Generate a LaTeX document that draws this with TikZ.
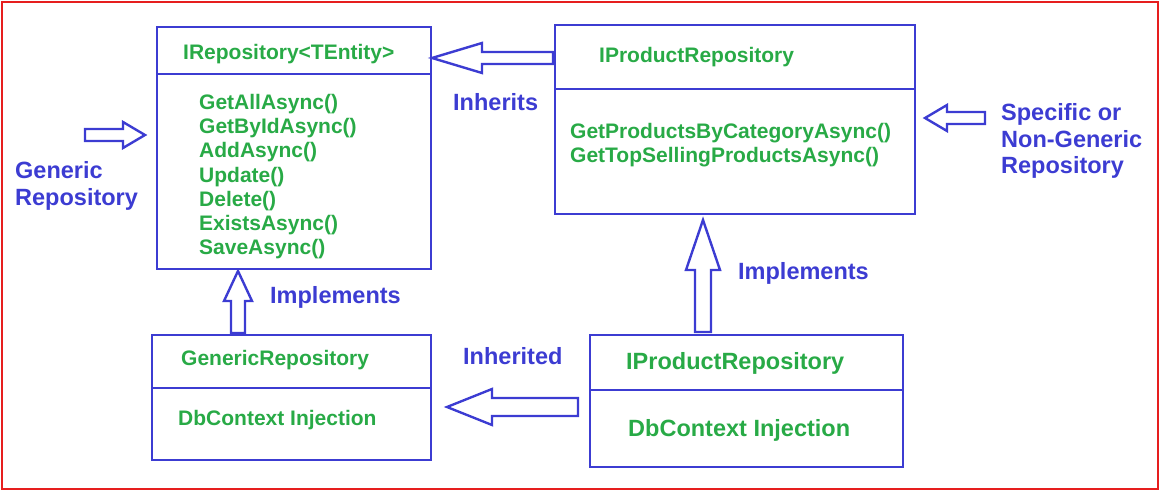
\documentclass[tikz,border=0pt]{standalone}
\usepackage{fontspec}
\setmainfont{Liberation Sans}
\definecolor{gr}{RGB}{40,170,70}
\definecolor{bl}{RGB}{60,60,210}
\definecolor{rd}{RGB}{230,30,30}
\newcommand{\myharrow}[6]{%
  \draw[arr] (#1,#3) -- ({#1+#6},{#3-#5}) -- ({#1+#6},{#3-#4}) -- (#2,{#3-#4}) -- (#2,{#3+#4}) -- ({#1+#6},{#3+#4}) -- ({#1+#6},{#3+#5}) -- cycle;}
\newcommand{\myvarrow}[6]{%
  \draw[arr] (#1,#2) -- ({#1-#5},{#2+#6}) -- ({#1-#4},{#2+#6}) -- ({#1-#4},#3) -- ({#1+#4},#3) -- ({#1+#4},{#2+#6}) -- ({#1+#5},{#2+#6}) -- cycle;}
\begin{document}
\begin{tikzpicture}[x=1pt,y=-1pt,
  box/.style={draw=bl,line width=2.4pt},
  arr/.style={draw=bl,line width=2.4pt,fill=white},
  g/.style={text=gr,font=\bfseries\fontsize{21}{24.2}\selectfont,align=left,inner sep=0pt},
  gb/.style={text=gr,font=\bfseries\fontsize{23.5}{27}\selectfont,align=left,inner sep=0pt},
  b/.style={text=bl,font=\bfseries\fontsize{23.5}{26.8}\selectfont,align=left,inner sep=0pt}]
\useasboundingbox (0,0) rectangle (1161,492);
\draw[rd,line width=2.4pt] (2,2) rectangle (1158,489);
% boxes
\draw[box] (157,27) rectangle (431,269); \draw[box] (157,74) -- (431,74);
\draw[box] (555,25) rectangle (915,214); \draw[box] (555,89) -- (915,89);
\draw[box] (152,335) rectangle (431,460); \draw[box] (152,388) -- (431,388);
\draw[box] (590,335) rectangle (903,467); \draw[box] (590,390) -- (903,390);
% texts
\node[g,anchor=west] (t1) at (183,54) {IRepository<TEntity>};
\node[g,anchor=north west] (m1) at (199,94) {GetAllAsync()\\GetByIdAsync()\\AddAsync()\\Update()\\Delete()\\ExistsAsync()\\SaveAsync()};
\node[g,anchor=west] (t2) at (599,57) {IProductRepository};
\node[g,anchor=north west] (m2) at (570,123) {GetProductsByCategoryAsync()\\GetTopSellingProductsAsync()};
\node[g,anchor=west] (t3) at (181,360) {GenericRepository};
\node[g,anchor=west] (m3) at (178,420) {DbContext Injection};
\node[gb,anchor=west] (t4) at (626,363) {IProductRepository};
\node[gb,anchor=west] (m4) at (628,430) {DbContext Injection};
% labels
\node[b,anchor=west] at (453,102) {Inherits};
\node[b,anchor=north west] at (15,161) {Generic\\Repository};
\node[b,anchor=north west] at (1001,103) {Specific or\\Non-Generic\\Repository};
\node[b,anchor=west] at (270,297) {Implements};
\node[b,anchor=west] at (738,273) {Implements};
\node[b,anchor=west] at (463,356) {Inherited};
% arrows
\myharrow{432}{553}{58}{6}{15}{50}
\myharrow{145}{85}{135}{-6}{-13}{-22}
\myharrow{925}{985}{118}{6}{13}{22}
\myharrow{447}{578}{407}{9}{18}{45}
\myvarrow{238}{271}{333}{7}{14}{30}
\myvarrow{703}{220}{332}{8}{17}{50}
\end{tikzpicture}
\end{document}
